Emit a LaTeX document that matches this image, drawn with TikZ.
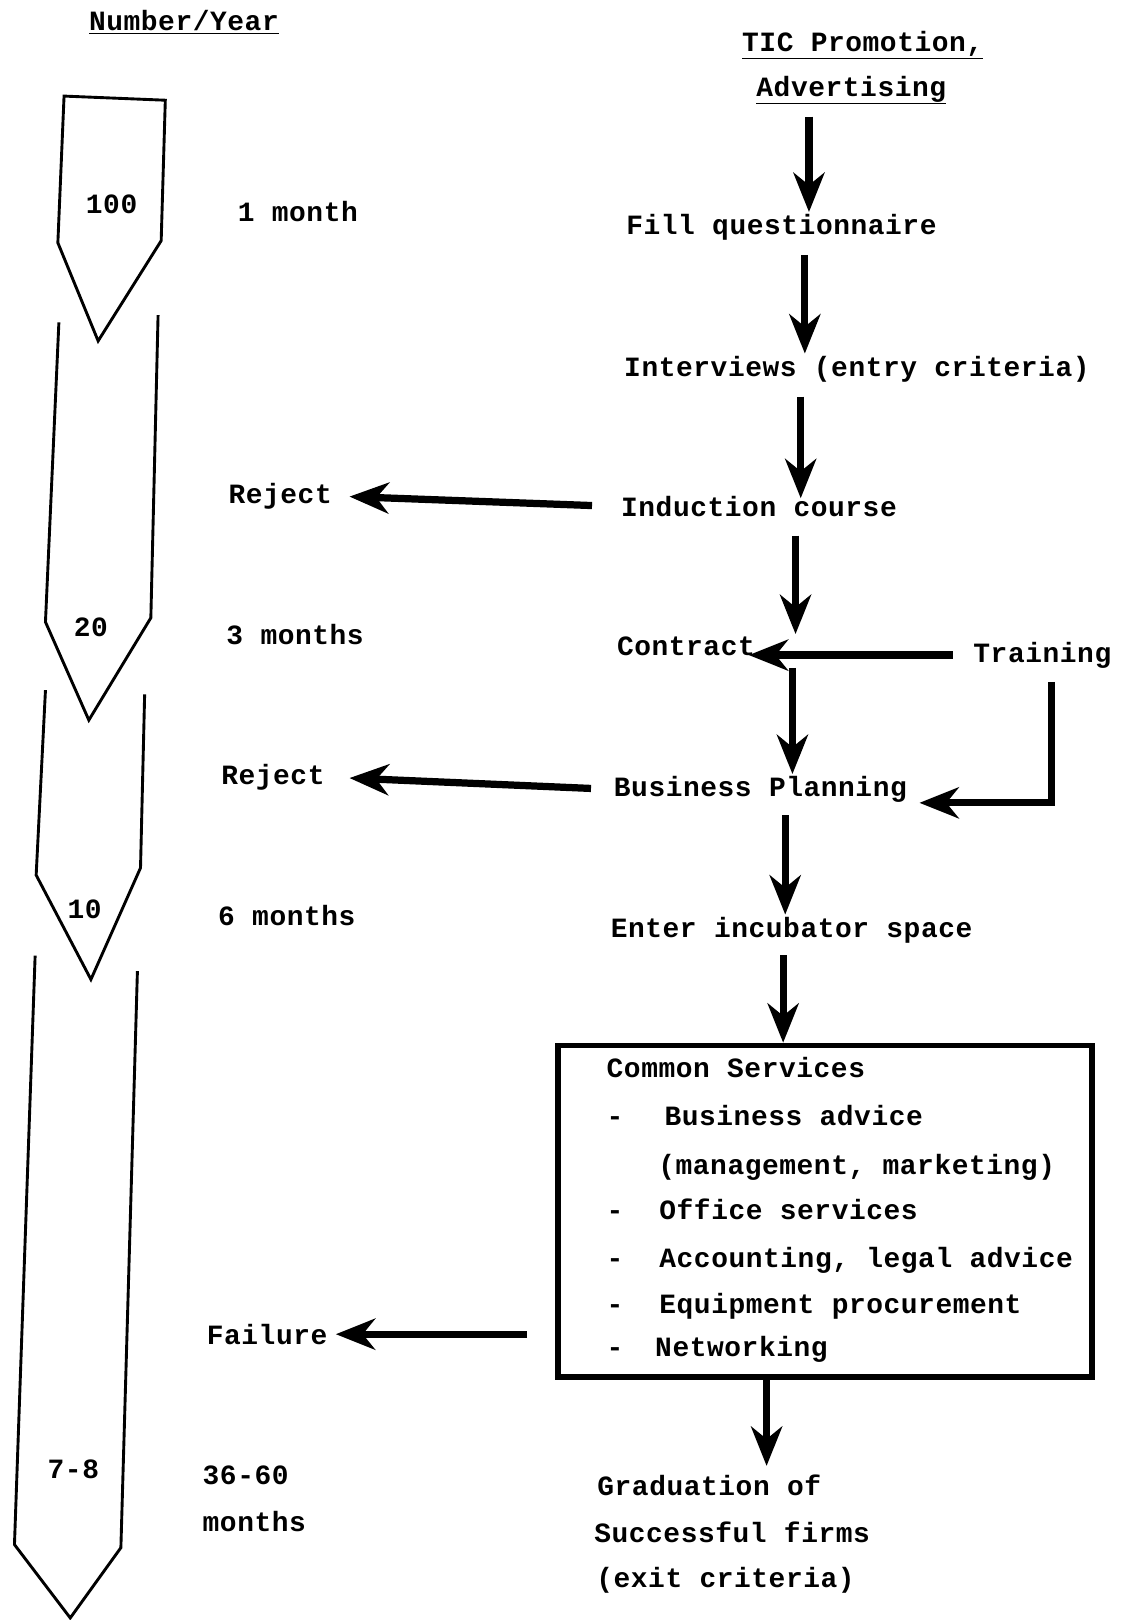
\documentclass[tikz,border=0pt]{standalone}
\usepackage{fontspec}
\setmainfont[LetterSpace=2]{Liberation Mono}
\usetikzlibrary{arrows.meta}
\begin{document}
\begin{tikzpicture}[x=1pt,y=-1pt,
  txt/.style={font=\fontsize{27}{32}\selectfont\bfseries, anchor=base west, inner sep=0pt},
  ctxt/.style={txt, anchor=base},
  arr/.style={line width=7pt, -{Stealth[length=38pt,width=30pt,inset=12pt]}},
  shp/.style={line width=2.8pt, line join=miter},
  boxst/.style={draw, line width=5.5pt, inner sep=0pt}]
\useasboundingbox (0,0) rectangle (1088,1568);

% left column shapes
\draw[shp] (62,93) -- (160,97) -- (156,233) -- (95,330) -- (56,235) -- cycle;
\draw[shp] (57,312) -- (44,602) -- (86,697) -- (146,598) -- (153,305);
\draw[shp] (44,668) -- (35,847) -- (88,948) -- (136,840) -- (140,672);
\draw[shp] (34,925) -- (14,1495) -- (68,1566) -- (117,1498) -- (133,940);

% left texts
\node[txt] (num) at (86,30) {\underline{Number/Year}};
\node[ctxt] (n100) at (108,207) {100};
\node[txt] (m1) at (230,214) {1 month};
\node[ctxt] (n20) at (88,616) {20};
\node[txt] (m3) at (219,624) {3 months};
\node[ctxt] (n10) at (82,889) {10};
\node[txt] (m6) at (211,896) {6 months};
\node[ctxt] (n78) at (71,1431) {7-8};
\node[txt] (m36) at (196,1437) {36-60};
\node[txt] (m36b) at (196,1482) {months};

\node[txt] (rej1) at (221,487) {Reject};
\node[txt] (rej2) at (214,759) {Reject};
\node[txt] (fail) at (200,1301) {Failure};

% right column texts
\node[ctxt] (tic) at (835,50) {\underline{TIC Promotion,}};
\node[ctxt] (adv) at (824,93) {\underline{Advertising}};
\node[txt] (fill) at (606,227) {Fill questionnaire};
\node[txt] (int) at (604,364) {Interviews (entry criteria)};
\node[txt] (ind) at (601,500) {Induction course};
\node[txt] (con) at (597,634) {Contract};
\node[txt] (tra) at (942,641) {Training};
\node[txt] (bp) at (594,771) {Business Planning};
\node[txt] (ent) at (591,907) {Enter incubator space};

\node[boxst, minimum width=517pt, minimum height=321pt] (box) at (798.5,1172.5) {};
\node[txt] (cs) at (587,1043) {Common Services};
\node[txt] (d1) at (587,1089) {-};
\node[txt] (s1) at (643,1089) {Business advice};
\node[txt] (s1b) at (637,1137) {(management, marketing)};
\node[txt] (d2) at (587,1180) {-};
\node[txt] (s2) at (638,1180) {Office services};
\node[txt] (d3) at (587,1227) {-};
\node[txt] (s3) at (638,1227) {Accounting, legal advice};
\node[txt] (d4) at (587,1271) {-};
\node[txt] (s4) at (638,1271) {Equipment procurement};
\node[txt] (d5) at (587,1313) {-};
\node[txt] (s5) at (634,1313) {Networking};

\node[txt] (grad) at (578,1447) {Graduation of};
\node[txt] (succ) at (575,1493) {Successful firms};
\node[txt] (exit) at (577,1537) {(exit criteria)};

% arrow columns
\coordinate (k1) at (783,0);
\coordinate (k2) at (779,0);
\coordinate (k3) at (775,0);
\coordinate (k4) at (770,0);
\coordinate (k5) at (767,0);
\coordinate (k6) at (760,0);
\coordinate (k7) at (758,0);
\coordinate (k8) at (742,0);
\coordinate (k9) at (1018,0);

\draw[arr, shorten <=12pt, shorten >=2pt] (adv.south -| k1) -- (fill.north -| k1);
\draw[arr, shorten <=14pt, shorten >=2pt] (fill.south -| k2) -- (int.north -| k2);
\draw[arr, shorten <=14pt, shorten >=-2pt] (int.south -| k3) -- (ind.north -| k3);
\draw[arr, shorten <=18pt, shorten >=2pt] (ind.south -| k4) -- (con.north -| k4);
\draw[arr, shorten <=12pt, shorten >=2pt] (con.south -| k5) -- (bp.north -| k5);
\draw[arr, shorten <=12pt, shorten >=2pt] (bp.south -| k6) -- (ent.north -| k6);
\draw[arr, shorten <=12pt, shorten >=0pt] (ent.south -| k7) -- (box.north -| k7);
\draw[arr, shorten <=0pt, shorten >=8pt] (box.south -| k8) -- (grad.north -| k8);

\draw[arr, shorten <=20pt, shorten >=-6pt] (tra.west) -- (tra.west -| con.east);
\draw[arr, shorten <=13pt, shorten >=12pt] (tra.south -| k9) |- ([yshift=-13pt]bp.east);
\draw[arr, shorten <=28pt, shorten >=17pt] (ind.west) -- (rej1.east);
\draw[arr, shorten <=22pt, shorten >=24pt] (bp.west) -- (rej2.east);
\draw[arr, shorten <=27pt, shorten >=8pt] (box.west |- fail.east) -- (fail.east);
\end{tikzpicture}
\end{document}
